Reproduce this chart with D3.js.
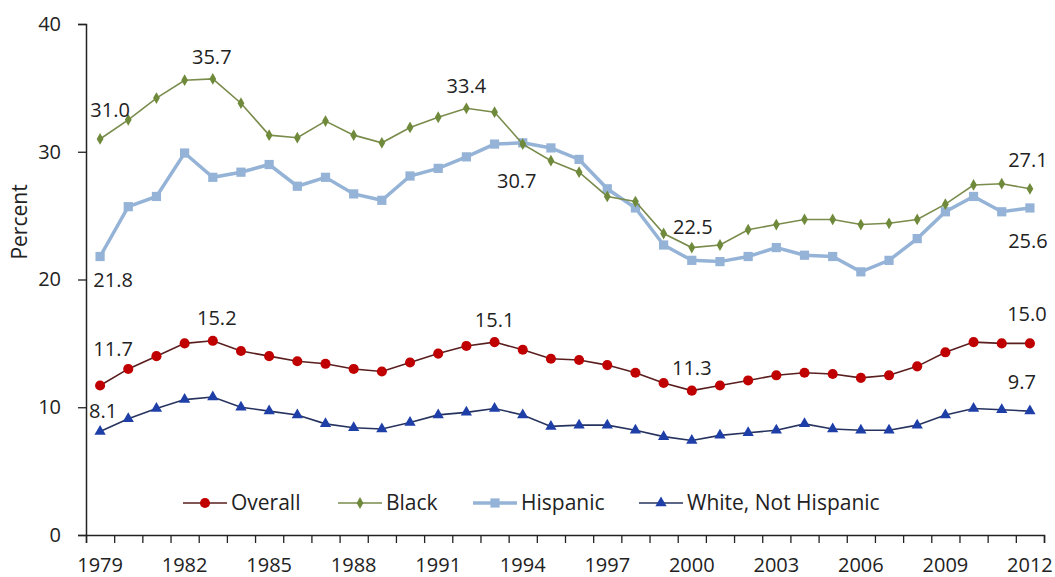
<!DOCTYPE html>
<html>
<head>
<meta charset="utf-8">
<script src="https://cdn.jsdelivr.net/npm/d3@7"></script>
<style>
  body { margin: 0; background: #fff; }
  svg text { font-family: "Open Sans", sans-serif; fill: #222; }
</style>
</head>
<body>
<svg id="chart" width="1055" height="577"></svg>
<script>
var years = [1979, 1980, 1981, 1982, 1983, 1984, 1985, 1986, 1987, 1988, 1989, 1990,
             1991, 1992, 1993, 1994, 1995, 1996, 1997, 1998, 1999, 2000, 2001, 2002,
             2003, 2004, 2005, 2006, 2007, 2008, 2009, 2010, 2011, 2012];
var tickYears = [1979, 1982, 1985, 1988, 1991, 1994, 1997, 2000, 2003, 2006, 2009, 2012];

var overall = [11.7, 13.0, 14.0, 15.0, 15.2, 14.4, 14.0, 13.6, 13.4, 13.0, 12.8, 13.5,
               14.2, 14.8, 15.1, 14.5, 13.8, 13.7, 13.3, 12.7, 11.9, 11.3, 11.7, 12.1,
               12.5, 12.7, 12.6, 12.3, 12.5, 13.2, 14.3, 15.1, 15.0, 15.0];
var black = [31.0, 32.5, 34.2, 35.6, 35.7, 33.8, 31.3, 31.1, 32.4, 31.3, 30.7, 31.9,
             32.7, 33.4, 33.1, 30.6, 29.3, 28.4, 26.5, 26.1, 23.6, 22.5, 22.7, 23.9,
             24.3, 24.7, 24.7, 24.3, 24.4, 24.7, 25.9, 27.4, 27.5, 27.1];
var hispanic = [21.8, 25.7, 26.5, 29.9, 28.0, 28.4, 29.0, 27.3, 28.0, 26.7, 26.2, 28.1,
                28.7, 29.6, 30.6, 30.7, 30.3, 29.4, 27.1, 25.6, 22.7, 21.5, 21.4, 21.8,
                22.5, 21.9, 21.8, 20.6, 21.5, 23.2, 25.3, 26.5, 25.3, 25.6];
var white = [8.1, 9.1, 9.9, 10.6, 10.8, 10.0, 9.7, 9.4, 8.7, 8.4, 8.3, 8.8,
             9.4, 9.6, 9.9, 9.4, 8.5, 8.6, 8.6, 8.2, 7.7, 7.4, 7.8, 8.0,
             8.2, 8.7, 8.3, 8.2, 8.2, 8.6, 9.4, 9.9, 9.8, 9.7];

var seriesNames = ["Overall", "Black", "Hispanic", "White, Not Hispanic"];
var yTicks = [0, 10, 20, 30, 40];

// points that carry a value label: series, year
var labelled = [
  ["Black", 1979], ["Black", 1983], ["Black", 1992], ["Black", 2000], ["Black", 2012],
  ["Hispanic", 1979], ["Hispanic", 1994], ["Hispanic", 2012],
  ["Overall", 1979], ["Overall", 1983], ["Overall", 1993], ["Overall", 2000], ["Overall", 2012],
  ["White, Not Hispanic", 1979], ["White, Not Hispanic", 2012]
];

var values = {
  "Overall": overall,
  "Black": black,
  "Hispanic": hispanic,
  "White, Not Hispanic": white
};

var style = {
  "Overall":  { line: "#5a1e1e", width: 1.6, fill: "#c00000", symbol: d3.symbolCircle, size: 80 },
  "Black":    { line: "#7a8c4c", width: 1.6, fill: "#6f8a3a", symbol: d3.symbolDiamond, size: 40 },
  "Hispanic": { line: "#95b3d7", width: 3.5, fill: "#95b3d7", symbol: d3.symbolSquare, size: 85 },
  "White, Not Hispanic": { line: "#26335f", width: 1.6, fill: "#1f3fa8", symbol: d3.symbolTriangle, size: 55 }
};

// label offsets from the point (layout only)
var labelOffset = {
  "Black 1979": [10, -22], "Black 1983": [-1, -15], "Black 1992": [0, -15],
  "Black 2000": [1, -14], "Black 2012": [-2, -22],
  "Hispanic 1979": [13, 30], "Hispanic 1994": [-6, 45], "Hispanic 2012": [-2, 40],
  "Overall 1979": [13, -30], "Overall 1983": [4, -16], "Overall 1993": [0, -15],
  "Overall 2000": [0, -16], "Overall 2012": [-3, -22],
  "White, Not Hispanic 1979": [3, -14], "White, Not Hispanic 2012": [-8, -22]
};

var svg = d3.select("#chart");

var x = d3.scaleBand().domain(years).range([86, 1044]);
var y = d3.scaleLinear().domain([0, 40]).range([535, 24]);

// y axis
var yAxis = svg.append("g")
  .attr("transform", "translate(86,0)")
  .call(d3.axisLeft(y).tickValues(yTicks).tickSize(8).tickPadding(17));
yAxis.selectAll("text").style("font-size", "20px");

// x axis: tick marks on category boundaries
var xb = d3.scaleLinear().domain([0, years.length]).range([86, 1044]);
svg.append("g")
  .attr("transform", "translate(0,535)")
  .call(d3.axisBottom(xb).ticks(years.length).tickSize(8).tickFormat(""));

var xAxis = svg.append("g")
  .attr("transform", "translate(0,535)")
  .call(d3.axisBottom(x).tickValues(tickYears).tickSize(0).tickPadding(23));
xAxis.select(".domain").remove();
xAxis.selectAll("text").style("font-size", "20px");

svg.selectAll(".domain").attr("stroke", "#222").attr("stroke-width", 1.5);
svg.selectAll(".tick line").attr("stroke", "#222").attr("stroke-width", 1.3);

svg.append("text")
  .attr("transform", "translate(27,222) rotate(-90)")
  .attr("text-anchor", "middle")
  .style("font-size", "21px")
  .text("Percent");

var cx = function(yr) { return x(yr) + x.bandwidth() / 2; };

var line = d3.line()
  .x(function(d, i) { return cx(years[i]); })
  .y(function(d) { return y(d); });

// draw in back-to-front order like the source
["Hispanic", "Black", "Overall", "White, Not Hispanic"].forEach(function(name) {
  var s = style[name];
  var g = svg.append("g");
  g.append("path")
    .datum(values[name])
    .attr("d", line)
    .attr("fill", "none")
    .attr("stroke", s.line)
    .attr("stroke-width", s.width);
  g.selectAll("path.marker")
    .data(values[name])
    .enter().append("path")
    .attr("class", "marker")
    .attr("d", d3.symbol().type(s.symbol).size(s.size))
    .attr("transform", function(d, i) { return "translate(" + cx(years[i]) + "," + y(d) + ")"; })
    .attr("fill", s.fill);
});

// value labels
svg.selectAll("text.vlabel")
  .data(labelled)
  .enter().append("text")
  .attr("class", "vlabel")
  .attr("text-anchor", "middle")
  .style("font-size", "20px")
  .attr("x", function(d) { return cx(d[1]) + labelOffset[d[0] + " " + d[1]][0]; })
  .attr("y", function(d) {
    var v = values[d[0]][years.indexOf(d[1])];
    return y(v) + labelOffset[d[0] + " " + d[1]][1];
  })
  .text(function(d) { return values[d[0]][years.indexOf(d[1])].toFixed(1); });

// legend
var legendX = [183, 338, 473, 639];
var legend = svg.selectAll("g.legend")
  .data(seriesNames)
  .enter().append("g")
  .attr("class", "legend")
  .attr("transform", function(d, i) { return "translate(" + legendX[i] + ",503)"; });
legend.append("line")
  .attr("x1", 0).attr("x2", 44)
  .attr("stroke", function(d) { return style[d].line; })
  .attr("stroke-width", function(d) { return style[d].width; });
legend.append("path")
  .attr("d", function(d) { return d3.symbol().type(style[d].symbol).size(style[d].size)(); })
  .attr("transform", "translate(22,0)")
  .attr("fill", function(d) { return style[d].fill; });
legend.append("text")
  .attr("x", 48)
  .attr("dy", "0.35em")
  .style("font-size", "21px")
  .text(function(d) { return d; });
</script>
</body>
</html>
